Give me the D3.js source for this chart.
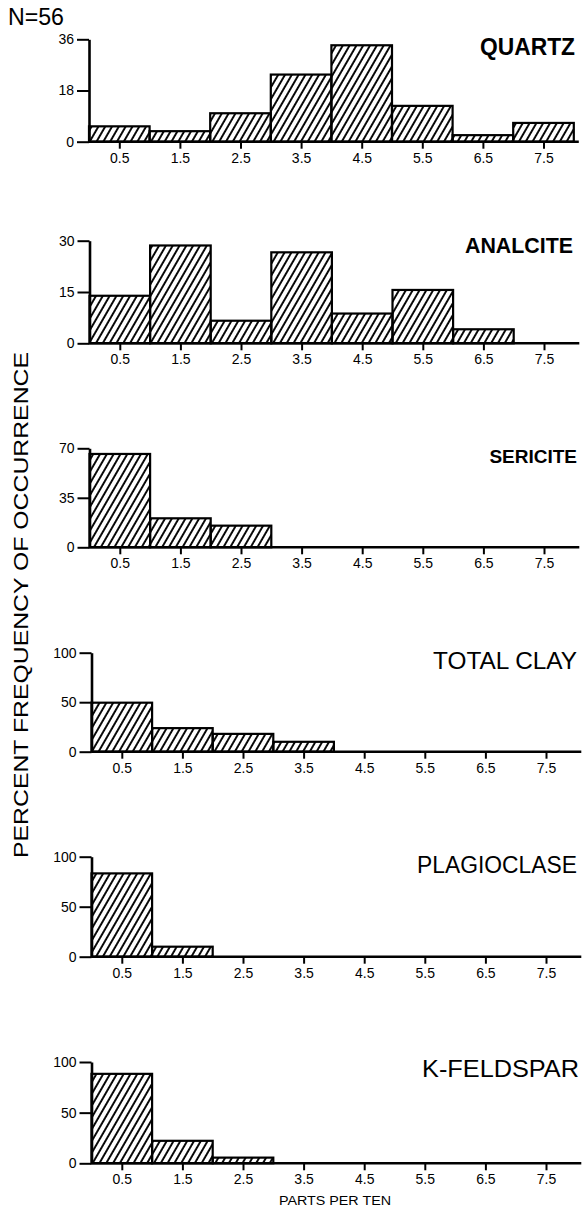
<!DOCTYPE html>
<html><head><meta charset="utf-8">
<script src="https://cdn.jsdelivr.net/npm/d3@7"></script>
<style>
body{margin:0;background:#fff}
svg{display:block}
text{font-family:"Liberation Sans",Arial,Helvetica,sans-serif;fill:#000}
</style>
</head><body><div id="chart"></div>
<script>
// ---- data ----
const binStarts = [0, 1, 2, 3, 4, 5, 6, 7];
const xTickLabels = ["0.5", "1.5", "2.5", "3.5", "4.5", "5.5", "6.5", "7.5"];
const titles = ["QUARTZ", "ANALCITE", "SERICITE", "TOTAL CLAY", "PLAGIOCLASE", "K-FELDSPAR"];
const quartz      = [5.4, 3.7, 10.0, 23.6, 33.9, 12.6, 2.3, 6.6];
const analcite    = [13.9, 28.6, 6.6, 26.6, 8.7, 15.6, 4.1, 0];
const sericite    = [66, 20.5, 15.3, 0, 0, 0, 0, 0];
const totalClay   = [49.5, 23.8, 18, 10, 0, 0, 0, 0];
const plagioclase = [83.3, 10, 0, 0, 0, 0, 0, 0];
const kFeldspar   = [88.3, 22.2, 5.6, 0, 0, 0, 0, 0];
const yTicksQuartz = [0, 18, 36];
const yTicksAnalcite = [0, 15, 30];
const yTicksSericite = [0, 35, 70];
const yTicksPercent = [0, 50, 100];
const sampleLabel = "N=56";
const yAxisTitle = "PERCENT FREQUENCY OF OCCURRENCE";
const xAxisTitle = "PARTS PER TEN";

const seriesList = [quartz, analcite, sericite, totalClay, plagioclase, kFeldspar];
const tickList = [yTicksQuartz, yTicksAnalcite, yTicksSericite, yTicksPercent, yTicksPercent, yTicksPercent];

// ---- layout ----
const W = 585, H = 1207;
const zeroY = [141.7, 343.3, 547.3, 751.7, 956.7, 1163.3];
const topY  = [39.3, 240.7, 448.3, 652.7, 856.7, 1062];
const axisX = [89, 89.5, 89.5, 91.5, 91.5, 91.5];
const binW = 60.6;
const titleBox = [ // right, baseline, width (null = natural), weight, size
  [575, 54.5, 95, 700, 24], [573, 253, 108, 700, 22], [577, 463, null, 600, 19],
  [577, 669, 144, 400, 24], [577, 873, 160, 400, 23], [579, 1077, 157, 400, 24]
];

const svg = d3.select("#chart").append("svg").attr("width", W).attr("height", H);

const defs = svg.append("defs");
defs.append("pattern").attr("id", "hatch").attr("patternUnits", "userSpaceOnUse")
  .attr("width", 5.9).attr("height", 10).attr("patternTransform", "rotate(30)")
  .append("line").attr("x1", 1).attr("y1", -2).attr("x2", 1).attr("y2", 12)
  .attr("stroke", "#000").attr("stroke-width", 1.9);

seriesList.forEach((vals, i) => {
  const ticks = tickList[i];
  const x = d3.scaleLinear().domain([0, 8]).range([axisX[i], axisX[i] + 8 * binW]);
  const y = d3.scaleLinear().domain([0, d3.max(ticks)]).range([zeroY[i], topY[i]]);
  const g = svg.append("g");

  // bars
  g.selectAll("rect").data(binStarts.filter((b, j) => vals[j] > 0)).join("rect")
    .attr("x", b => x(b)).attr("width", b => x(b + 1) - x(b))
    .attr("y", b => y(vals[b])).attr("height", b => y(0) - y(vals[b]))
    .attr("fill", "url(#hatch)").attr("stroke", "#000").attr("stroke-width", 2.2);

  // x axis
  const xa = d3.axisBottom(x).tickValues(binStarts.map(b => b + 0.5))
    .tickFormat((d, j) => xTickLabels[j]).tickSize(7).tickSizeOuter(0).tickPadding(4);
  const gx = g.append("g").attr("transform", `translate(0,${zeroY[i]})`).call(xa);
  gx.select(".domain").attr("d", `M${axisX[i]},0H${x(8) + 5}`).attr("stroke-width", 2.6);
  gx.selectAll(".tick line").attr("stroke-width", 2);
  gx.selectAll(".tick text").attr("font-size", 14).attr("font-family", '"Liberation Sans",Arial,sans-serif');

  // y axis
  const ya = d3.axisLeft(y).tickValues(ticks).tickSize(12).tickSizeOuter(0).tickPadding(3);
  const gy = g.append("g").attr("transform", `translate(${axisX[i]},0)`).call(ya);
  gy.select(".domain").attr("stroke-width", 2.6);
  gy.selectAll(".tick line").attr("stroke-width", 2);
  gy.selectAll(".tick text").attr("font-size", 14).attr("font-family", '"Liberation Sans",Arial,sans-serif');

  const tb = titleBox[i];
  const t = g.append("text").attr("x", tb[0]).attr("y", tb[1]).attr("text-anchor", "end")
    .attr("font-size", tb[4]).attr("font-weight", tb[3])
    .text(titles[i]);
  if (tb[2]) t.attr("textLength", tb[2]).attr("lengthAdjust", "spacingAndGlyphs");
});

svg.append("text").attr("x", 8).attr("y", 25).attr("font-size", 23)
  .attr("textLength", 56).attr("lengthAdjust", "spacingAndGlyphs").text(sampleLabel);

svg.append("text").attr("transform", "translate(28,605) rotate(-90)")
  .attr("text-anchor", "middle").attr("font-size", 21)
  .attr("textLength", 506).attr("lengthAdjust", "spacingAndGlyphs").text(yAxisTitle);

svg.append("text").attr("x", 335).attr("y", 1205).attr("text-anchor", "middle")
  .attr("font-size", 12).attr("textLength", 112).attr("lengthAdjust", "spacingAndGlyphs")
  .text(xAxisTitle);
</script>
</body></html>
